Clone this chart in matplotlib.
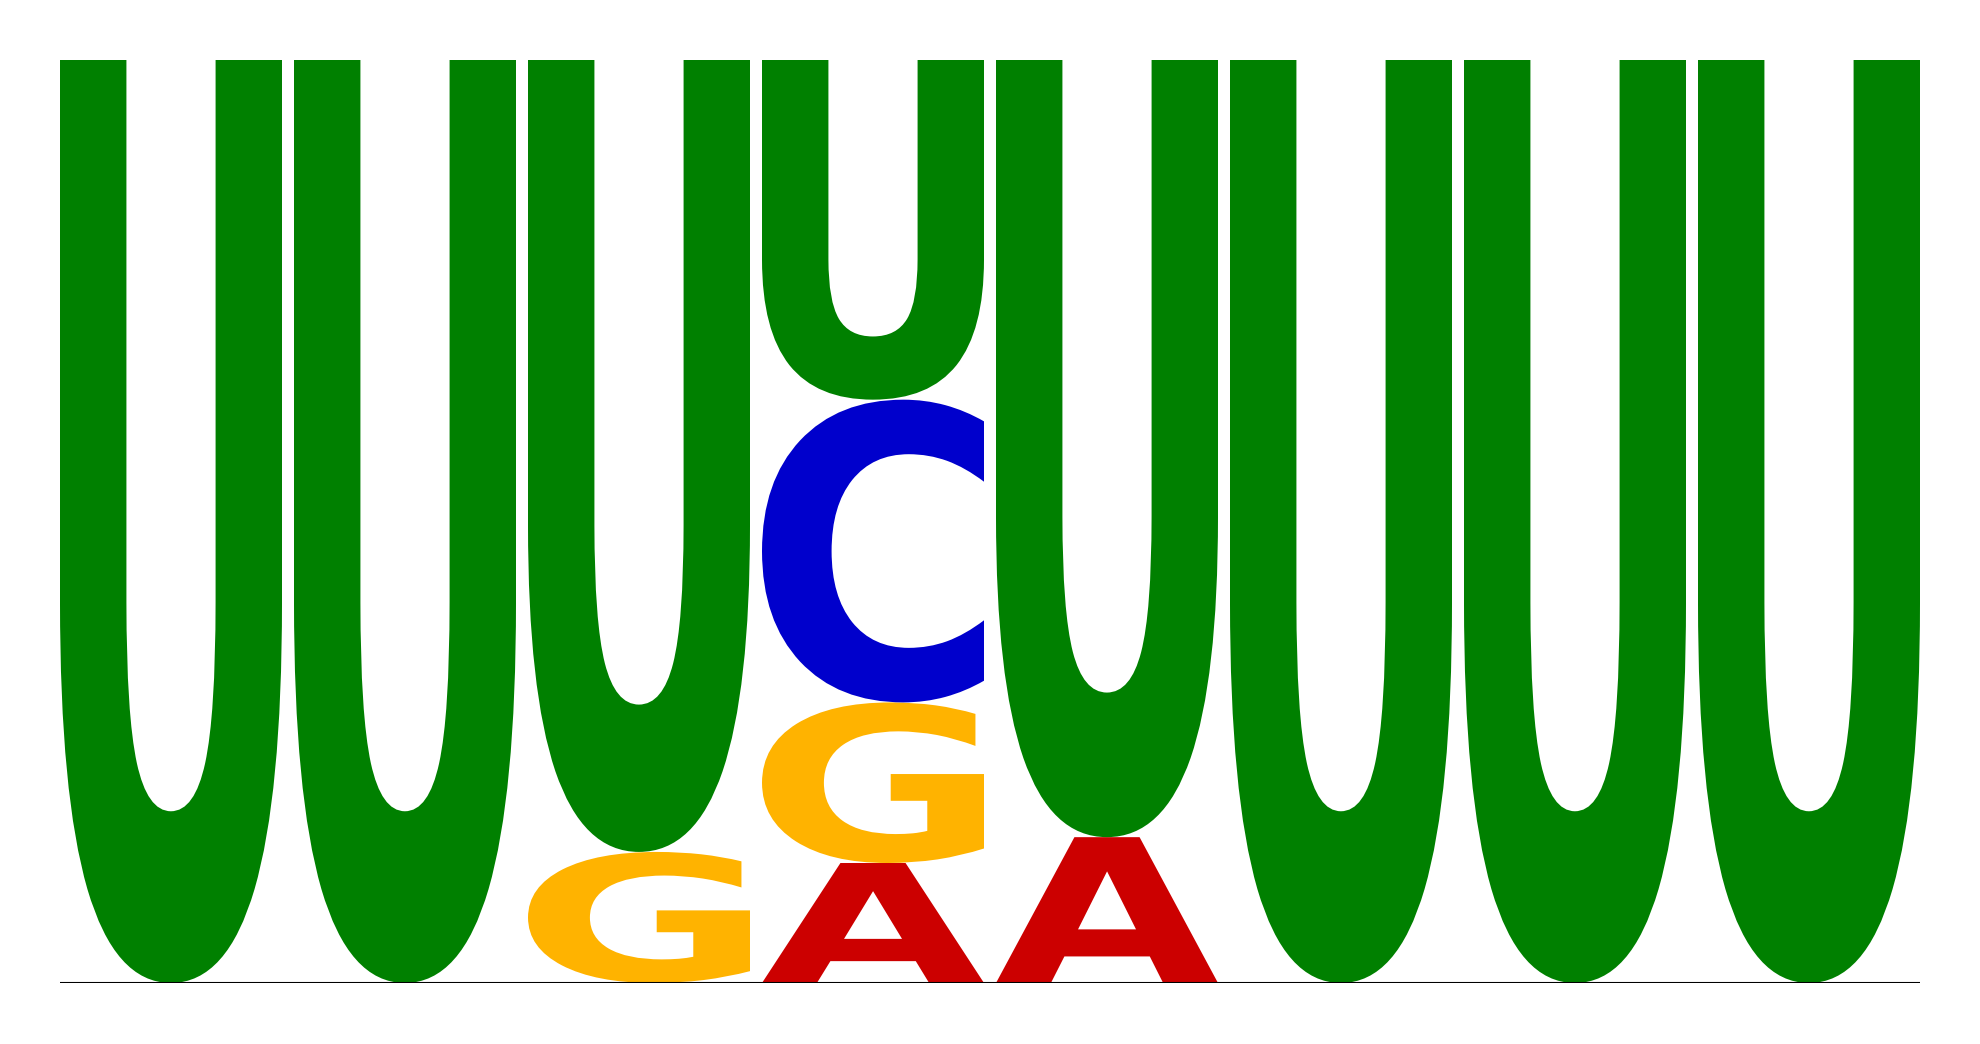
import matplotlib
matplotlib.use("Agg")
import matplotlib.pyplot as plt
from matplotlib.textpath import TextPath
from matplotlib.font_manager import FontProperties
from matplotlib.patches import PathPatch
from matplotlib.transforms import Affine2D

positions = [1, 2, 3, 4, 5, 6, 7, 8]
freq_A = [0.0, 0.0, 0.0, 0.130, 0.158, 0.0, 0.0, 0.0]
freq_C = [0.0, 0.0, 0.0, 0.328, 0.0, 0.0, 0.0, 0.0]
freq_G = [0.0, 0.0, 0.142, 0.174, 0.0, 0.0, 0.0, 0.0]
freq_U = [1.0, 1.0, 0.858, 0.368, 0.842, 1.0, 1.0, 1.0]

colors = {"A": "#CC0000", "C": "#0000CC", "G": "#FFB300", "U": "#008000"}

fig = plt.figure(figsize=(19.8, 10.44), dpi=100)
ax = fig.add_axes([60 / 1980, (1044 - 983) / 1044, 1860 / 1980, (983 - 60) / 1044])

fp = FontProperties(family="DejaVu Sans", weight="bold")
letter_w = 0.95 * 222 / 222.0  # width in slot units
slot = 234.0 / 222.0 * 0.95


def draw_letter(ch, x0, y0, w, h):
    tp = TextPath((0, 0), ch, size=1, prop=fp)
    ext = tp.get_extents()
    tr = (Affine2D()
          .translate(-ext.x0, -ext.y0)
          .scale(w / ext.width, h / ext.height)
          .translate(x0, y0))
    path = tr.transform_path(tp)
    ax.add_patch(PathPatch(path, facecolor=colors[ch], edgecolor="none", lw=0))


for i, p in enumerate(positions):
    col = [("A", freq_A[i]), ("C", freq_C[i]), ("G", freq_G[i]), ("U", freq_U[i])]
    col = sorted([c for c in col if c[1] > 0], key=lambda c: c[1])
    y = 0.0
    x0 = (p - 1) * slot
    for ch, h in col:
        draw_letter(ch, x0, y, letter_w, h)
        y += h

xmax = 7 * slot + letter_w
ax.set_xlim(0, xmax)
ax.set_ylim(0, 1)
ax.axhline(0, color="black", lw=1.5)
ax.axis("off")

fig.savefig("out.png", dpi=100)
